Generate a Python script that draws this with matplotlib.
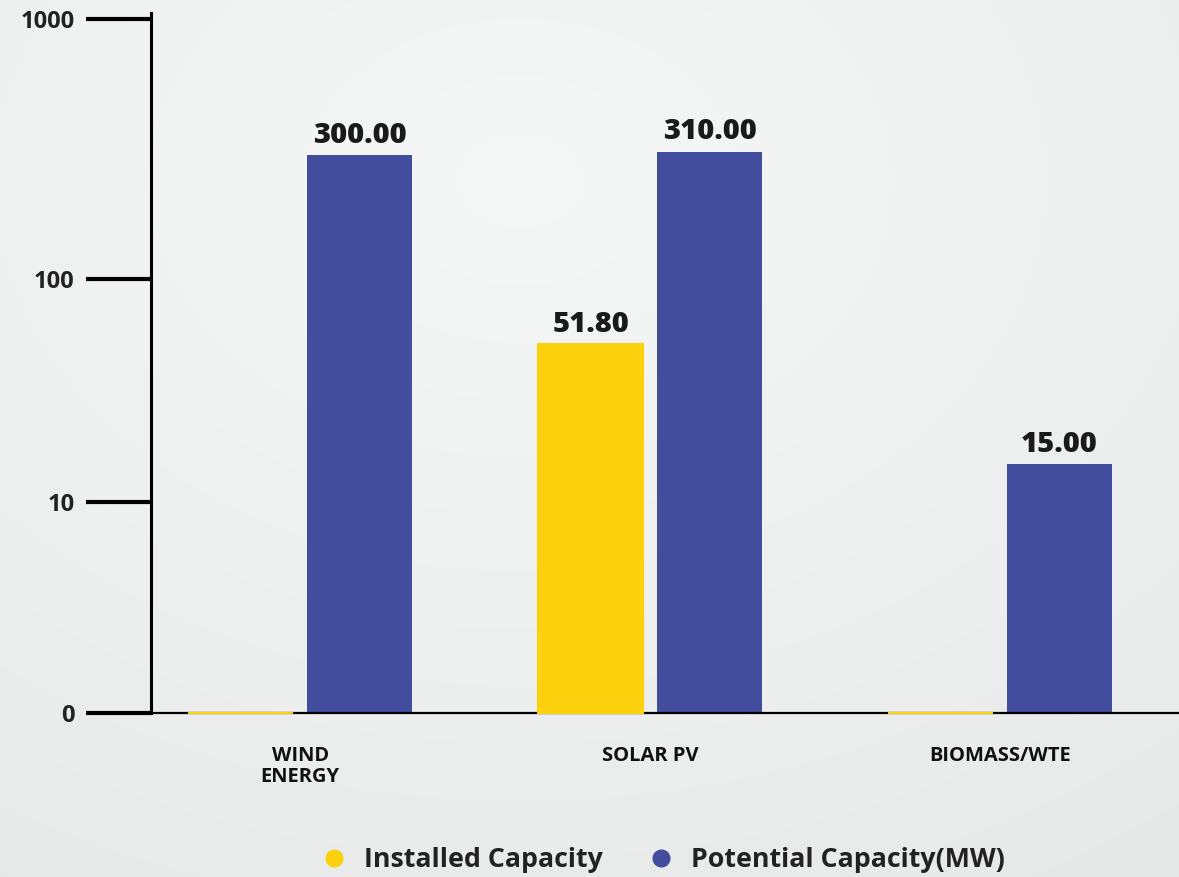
import numpy as np
import matplotlib
matplotlib.use('Agg')
import matplotlib.pyplot as plt
from matplotlib.lines import Line2D

plt.rcParams['font.family'] = ['Open Sans', 'DejaVu Sans']

categories = ['WIND\nENERGY', 'SOLAR PV', 'BIOMASS/WTE']
installed = [0.0, 51.80, 0.0]
potential = [300.00, 310.00, 15.00]
y_ticks = [0, 10, 100, 1000]
y_tick_labels = ['0', '10', '100', '1000']

yellow = '#FBD10E'
blue = '#424D9E'

# the axis in the picture is log-like with 0 at the bottom; the ticks sit at
# these heights (px) above the baseline
anchor_vals = np.log10(1 + np.array([0, 10, 100, 1000, 10000]))
anchor_px = np.array([0, 211, 434, 694, 954])


def forward(v):
    v = np.clip(np.asarray(v, dtype=float), 0, None)
    return np.interp(np.log10(1 + v), anchor_vals, anchor_px)


def inverse(h):
    return 10 ** np.interp(np.asarray(h, dtype=float), anchor_px, anchor_vals) - 1


fig = plt.figure(figsize=(11.79, 8.77), dpi=100)

# soft radial background
yy, xx = np.mgrid[0:877, 0:1179]
r = np.sqrt(((xx - 520) / 1179) ** 2 + ((yy - 180) / 877) ** 2)
shade = np.clip(0.968 - 0.06 * r, 0, 1)
bg = np.dstack([shade - 0.004, shade, shade])
fig.figimage(bg, 0, 0, zorder=-10)

ax = fig.add_axes([151 / 1179, 1 - 713 / 877, 1028 / 1179, 700 / 877])
ax.patch.set_alpha(0)
ax.set_yscale('function', functions=(forward, inverse))

x = np.arange(len(categories))
w = 0.3
ax.bar(x - 0.17, installed, w, color=yellow, edgecolor=yellow, linewidth=1.5,
       zorder=3, clip_on=False)
ax.bar(x + 0.17, potential, w, color=blue, zorder=2)

for i in range(len(categories)):
    if installed[i] > 0:
        ax.annotate(f'{installed[i]:.2f}', (x[i] - 0.17, installed[i]),
                    xytext=(0, 4), textcoords='offset points', ha='center',
                    va='bottom', fontsize=21, fontweight='heavy', color='#1a1a1a')
    ax.annotate(f'{potential[i]:.2f}', (x[i] + 0.17, potential[i]),
                xytext=(0, 4), textcoords='offset points', ha='center',
                va='bottom', fontsize=21, fontweight='heavy', color='#1a1a1a')

ax.set_xlim(-0.426, 2.511)
ax.set_ylim(0, inverse(700))

ax.set_yticks(y_ticks)
ax.set_yticklabels(y_tick_labels)
ax.yaxis.set_minor_locator(matplotlib.ticker.NullLocator())
ax.tick_params(axis='y', direction='out', length=47, width=3, pad=8,
               labelsize=17, labelcolor='#222222')
for lab in ax.get_yticklabels():
    lab.set_fontweight('bold')

ax.set_xticks(x)
ax.set_xticklabels(categories, fontsize=14.5, fontweight='bold',
                   linespacing=1.05, color='#111111')
ax.tick_params(axis='x', length=0, pad=24)

for s in ['top', 'right']:
    ax.spines[s].set_visible(False)
ax.spines['left'].set_linewidth(2.2)
ax.spines['bottom'].set_linewidth(1.6)

handles = [
    Line2D([], [], marker='o', linestyle='', markersize=12,
           markerfacecolor=yellow, markeredgecolor=yellow),
    Line2D([], [], marker='o', linestyle='', markersize=12,
           markerfacecolor=blue, markeredgecolor=blue),
]
fig.legend(handles, ['Installed Capacity', 'Potential Capacity(MW)'],
           loc='center', bbox_to_anchor=(656 / 1179, 1 - 860 / 877), ncol=2,
           frameon=False, handletextpad=0.1, columnspacing=1.2,
           prop={'size': 19.3, 'weight': 'bold'}, labelcolor='#222222')

fig.savefig('out.png', dpi=100)
